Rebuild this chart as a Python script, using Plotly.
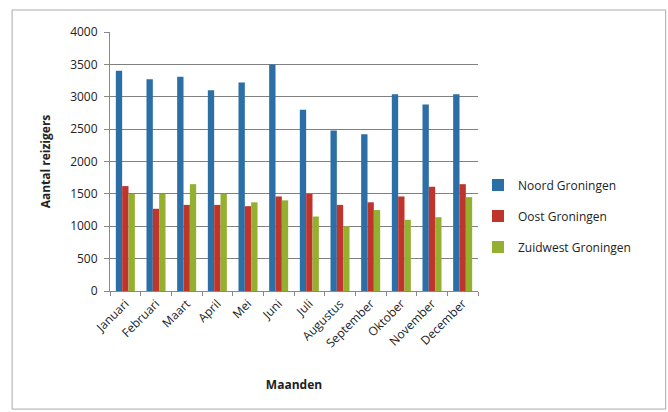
import plotly.graph_objects as go

maanden = ["Januari", "Februari", "Maart", "April", "Mei", "Juni", "Juli",
           "Augustus", "September", "Oktober", "November", "December"]
noord = [3400, 3270, 3310, 3100, 3220, 3500, 2800, 2480, 2420, 3040, 2880, 3040]
oost = [1620, 1270, 1330, 1330, 1310, 1460, 1500, 1330, 1370, 1460, 1610, 1650]
zuidwest = [1500, 1500, 1650, 1500, 1370, 1400, 1150, 1000, 1250, 1100, 1140, 1450]

series = [
    ("Noord Groningen", noord, "#2b6fa6"),
    ("Oost Groningen", oost, "#c0352b"),
    ("Zuidwest Groningen", zuidwest, "#94b030"),
]

font = "Open Sans, Lato, sans-serif"

fig = go.Figure()
for i, (name, vals, col) in enumerate(series):
    fig.add_trace(go.Bar(x=maanden, y=vals, name=name, marker_color=col,
                         marker_line_width=0, legendgroup=f"g{i}"))

fig.update_layout(
    width=668, height=412,
    margin=dict(l=110, r=190, t=32, b=121),
    paper_bgcolor="white", plot_bgcolor="white",
    barmode="group", bargap=0.38, bargroupgap=0,
    font=dict(family=font, size=11, color="#222"),
    legend=dict(x=1.0, y=0.29, xanchor="left", yanchor="middle",
                traceorder="grouped", tracegroupgap=12,
                font=dict(size=12, color="#222"), itemwidth=30),
    showlegend=True,
)

fig.update_xaxes(
    tickangle=-45, tickson="boundaries", ticks="outside", ticklen=4,
    tickcolor="#888", showline=True, linecolor="#888", linewidth=1,
    tickfont=dict(size=12),
    title=dict(text="<b>Maanden</b>", font=dict(size=12), standoff=30),
)
fig.update_yaxes(
    range=[0, 4000], dtick=500, ticks="outside", ticklen=5, tickcolor="#888",
    showline=True, linecolor="#888", linewidth=1,
    showgrid=True, gridcolor="#808080", gridwidth=1,
    tickfont=dict(size=12), ticklabelstandoff=4,
    title=dict(text="<b>Aantal reizigers</b>", font=dict(size=12), standoff=16),
)

# chart frame around the whole figure
fig.add_shape(type="rect", xref="paper", yref="paper",
              x0=-0.266, x1=1.51, y0=-0.456, y1=1.085,
              line=dict(color="#a8a8a8", width=1), layer="below")

fig.write_html("out.html")
